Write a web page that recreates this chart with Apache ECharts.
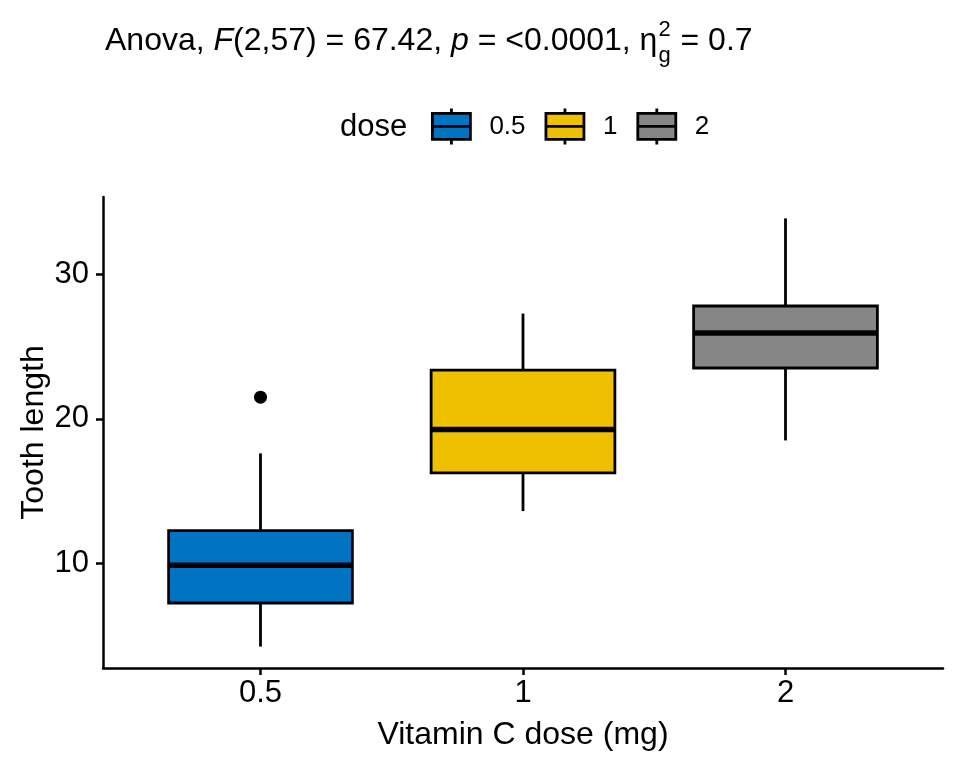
<!DOCTYPE html>
<html>
<head>
<meta charset="utf-8">
<title>Tooth length by dose</title>
<script src="https://cdn.jsdelivr.net/npm/echarts@6/dist/echarts.min.js"></script>
<style>
  html, body { margin: 0; padding: 0; background: #fff; }
  #main { width: 960px; height: 768px; }
</style>
</head>
<body>
<div id="main"></div>
<script>
// box stats per dose (ToothGrowth)
var doses = ['0.5', '1', '2'];
var lowerWhisker = [4.2, 13.6, 18.5];
var q1 = [7.225, 16.25, 23.525];
var median = [9.85, 19.25, 25.95];
var q3 = [12.25, 23.375, 27.825];
var upperWhisker = [17.6, 27.3, 33.9];
var outliers = [[1, 21.5]];
var yTicks = [10, 20, 30];

var colors = ['#0073C2', '#EFC000', '#868686'];
var fam = '"Liberation Sans", Arial, sans-serif';
var boxWidth = 0.7;

// measure title pieces so the sub/superscript can be stacked
var ctx = document.createElement('canvas').getContext('2d');
function tw(s, italic, size) {
    ctx.font = (italic ? 'italic ' : '') + size + 'px ' + fam;
    return ctx.measureText(s).width;
}
var titleSize = 32, scriptSize = 22, titleX = 105;
var preW = tw('Anova, ', 0, titleSize) + tw('F', 1, titleSize) + tw('(2,57) = 67.42, ', 0, titleSize)
         + tw('p', 1, titleSize) + tw(' = <0.0001, η', 0, titleSize);
var scriptW = tw('g', 0, scriptSize);

function renderBox(params, api) {
    var x = api.value(0);
    var lo = api.coord([x, api.value(1)]);
    var b1 = api.coord([x, api.value(2)]);
    var md = api.coord([x, api.value(3)]);
    var b3 = api.coord([x, api.value(4)]);
    var hi = api.coord([x, api.value(5)]);
    var half = api.size([boxWidth, 0])[0] / 2;
    var cx = lo[0];
    var ln = { stroke: '#000', lineWidth: 2.8 };
    return {
        type: 'group',
        children: [
            { type: 'line', shape: { x1: cx, y1: hi[1], x2: cx, y2: b3[1] }, style: ln },
            { type: 'line', shape: { x1: cx, y1: b1[1], x2: cx, y2: lo[1] }, style: ln },
            { type: 'rect', shape: { x: cx - half, y: b3[1], width: half * 2, height: b1[1] - b3[1] },
              style: { fill: api.visual('color'), stroke: '#000', lineWidth: 2.8 } },
            { type: 'line', shape: { x1: cx - half, y1: md[1], x2: cx + half, y2: md[1] },
              style: { stroke: '#000', lineWidth: 5.5 } }
        ]
    };
}

var series = doses.map(function (d, i) {
    return {
        name: d,
        type: 'custom',
        renderItem: renderBox,
        itemStyle: { color: colors[i] },
        encode: { x: 0, y: [1, 2, 3, 4, 5] },
        data: [[i + 1, lowerWhisker[i], q1[i], median[i], q3[i], upperWhisker[i]]]
    };
});
series.push({
    type: 'scatter',
    data: outliers,
    symbolSize: 13,
    itemStyle: { color: '#000', opacity: 1 },
    silent: true
});

var chart = echarts.init(document.getElementById('main'));
chart.setOption({
    animation: false,
    textStyle: { fontFamily: fam },
    grid: { left: 103, right: 17, top: 197, bottom: 100 },
    legend: {
        left: 426,
        top: 102,
        itemWidth: 38,
        itemHeight: 36,
        itemGap: 19,
        icon: 'path://M0,5L38,5L38,31L0,31Z M0,18L38,18 M19,0L19,5 M19,31L19,36',
        textStyle: { fontSize: 26, color: '#000', padding: [0, 0, 0, 14], fontFamily: fam },
        data: doses.map(function (d, i) {
            return { name: d, itemStyle: { color: colors[i], borderColor: '#000', borderWidth: 2.8 } };
        })
    },
    xAxis: {
        type: 'value',
        min: 0.4,
        max: 3.6,
        name: 'Vitamin C dose (mg)',
        nameLocation: 'middle',
        nameGap: 51,
        nameTextStyle: { fontSize: 32, color: '#000', fontFamily: fam },
        splitLine: { show: false },
        axisLine: { show: true, lineStyle: { color: '#000', width: 2.5 } },
        axisTick: { show: true, length: 7, lineStyle: { color: '#000', width: 2.5 }, customValues: [1, 2, 3] },
        axisLabel: {
            fontSize: 31, color: '#000', margin: 10, customValues: [1, 2, 3],
            formatter: function (v) { return doses[Math.round(v) - 1]; }
        }
    },
    yAxis: {
        type: 'value',
        min: 2.715,
        max: 35.385,
        name: 'Tooth length',
        nameLocation: 'middle',
        nameGap: 53,
        nameMoveOverlap: false,
        nameTextStyle: { fontSize: 32, color: '#000', fontFamily: fam },
        splitLine: { show: false },
        axisLine: { show: true, lineStyle: { color: '#000', width: 2.5 } },
        axisTick: { show: true, length: 7, lineStyle: { color: '#000', width: 2.5 }, customValues: yTicks },
        axisLabel: { fontSize: 31, color: '#000', margin: 14, customValues: yTicks }
    },
    graphic: [
        {
            type: 'text', left: titleX, top: 25,
            style: {
                text: 'Anova, {i|F}(2,57) = 67.42, {i|p} = <0.0001, η{gap|} = 0.7',
                fontSize: titleSize, fontFamily: fam, fill: '#000',
                rich: {
                    i: { fontStyle: 'italic', fontSize: titleSize, fontFamily: fam },
                    gap: { width: scriptW + 2, fontSize: titleSize }
                }
            }
        },
        { type: 'text', x: titleX + preW + 1, y: 30,
          style: { text: '2', fontSize: scriptSize, fontFamily: fam, fill: '#000', verticalAlign: 'middle' } },
        { type: 'text', x: titleX + preW + 1, y: 56,
          style: { text: 'g', fontSize: scriptSize, fontFamily: fam, fill: '#000', verticalAlign: 'middle' } },
        { type: 'text', left: 340, top: 112,
          style: { text: 'dose', fontSize: 31, fontFamily: fam, fill: '#000' } }
    ],
    series: series
});
</script>
</body>
</html>
